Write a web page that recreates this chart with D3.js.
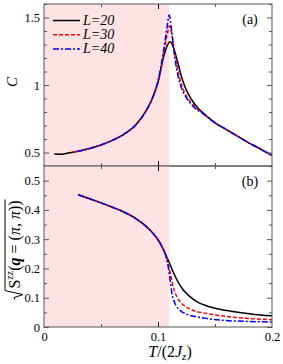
<!DOCTYPE html>
<html>
<head>
<meta charset="utf-8">
<script src="https://cdn.jsdelivr.net/npm/d3@7"></script>
<style>
  body { margin: 0; background: #fff; }
  svg text { font-family: "Liberation Serif", "Times New Roman", Times, "DejaVu Serif", serif !important; fill: #000; }
</style>
</head>
<body>
<script>
// Figure dimensions
const W = 283, H = 364;
const margin = { top: 4, right: 11, bottom: 37, left: 44 };
const PW = W - margin.left - margin.right;   // plot width
const PH_A = 162;                             // panel (a) height
const PH_B = 161;                             // panel (b) height

// Colors
const SHADE = '#fde3e3';
const FRAME = '#555';
const COLORS = ['#000000', '#ff0000', '#0000ff'];
const DASHES = [null, '4,2', '6,2,2,2'];

// Data
const SIZES = ['L=20', 'L=30', 'L=40'];
const T_SHADE = 0.11;

// (a) specific heat C
const T_C20 = [0.009, 0.015, 0.02, 0.03, 0.04, 0.05, 0.06, 0.07, 0.08, 0.09, 0.095, 0.1, 0.105, 0.108, 0.111, 0.113, 0.116, 0.121, 0.125, 0.13, 0.135, 0.14, 0.15, 0.16, 0.17, 0.18, 0.19, 0.2];
const C20   = [0.488, 0.487, 0.494, 0.51, 0.53, 0.556, 0.59, 0.635, 0.70, 0.815, 0.90, 1.02, 1.21, 1.29, 1.32, 1.29, 1.21, 1.05, 0.96, 0.885, 0.83, 0.79, 0.72, 0.67, 0.62, 0.57, 0.525, 0.478];
const T_C30 = [0.025, 0.03, 0.04, 0.05, 0.06, 0.07, 0.08, 0.09, 0.095, 0.1, 0.105, 0.108, 0.110, 0.112, 0.115, 0.119, 0.123, 0.128, 0.134, 0.14, 0.15, 0.16, 0.17, 0.18, 0.19, 0.2];
const C30   = [0.505, 0.51, 0.53, 0.556, 0.59, 0.635, 0.70, 0.815, 0.90, 1.025, 1.24, 1.37, 1.437, 1.38, 1.22, 1.05, 0.95, 0.88, 0.825, 0.785, 0.72, 0.67, 0.62, 0.57, 0.525, 0.478];
const T_C40 = [0.029, 0.03, 0.04, 0.05, 0.06, 0.07, 0.08, 0.09, 0.095, 0.1, 0.105, 0.108, 0.1098, 0.112, 0.114, 0.118, 0.122, 0.127, 0.133, 0.14, 0.15, 0.16, 0.17, 0.18, 0.19, 0.2];
const C40   = [0.509, 0.51, 0.53, 0.556, 0.59, 0.635, 0.70, 0.815, 0.90, 1.03, 1.26, 1.43, 1.518, 1.40, 1.25, 1.05, 0.95, 0.88, 0.825, 0.785, 0.72, 0.67, 0.62, 0.57, 0.525, 0.478];

// (b) sqrt of structure factor
const T_S20 = [0.03, 0.04, 0.05, 0.06, 0.07, 0.08, 0.085, 0.09, 0.095, 0.1, 0.103, 0.105, 0.107, 0.109, 0.111, 0.1135, 0.117, 0.122, 0.128, 0.134, 0.14, 0.15, 0.16, 0.17, 0.18, 0.19, 0.2];
const S20   = [0.452, 0.438, 0.424, 0.409, 0.393, 0.372, 0.358, 0.342, 0.323, 0.298, 0.278, 0.262, 0.245, 0.228, 0.210, 0.186, 0.158, 0.127, 0.104, 0.087, 0.076, 0.064, 0.056, 0.050, 0.045, 0.041, 0.038];
const T_S30 = [0.03, 0.04, 0.05, 0.06, 0.07, 0.08, 0.085, 0.09, 0.095, 0.1, 0.103, 0.105, 0.107, 0.109, 0.111, 0.1135, 0.117, 0.122, 0.13, 0.143, 0.16, 0.18, 0.2];
const S30   = [0.452, 0.438, 0.424, 0.409, 0.393, 0.372, 0.358, 0.342, 0.323, 0.298, 0.278, 0.262, 0.243, 0.215, 0.180, 0.135, 0.100, 0.076, 0.058, 0.046, 0.036, 0.029, 0.025];
const T_S40 = [0.03, 0.04, 0.05, 0.06, 0.07, 0.08, 0.085, 0.09, 0.095, 0.1, 0.103, 0.105, 0.107, 0.109, 0.111, 0.112, 0.115, 0.119, 0.125, 0.135, 0.143, 0.16, 0.18, 0.2];
const S40   = [0.452, 0.438, 0.424, 0.409, 0.393, 0.372, 0.358, 0.342, 0.323, 0.298, 0.278, 0.262, 0.241, 0.205, 0.150, 0.120, 0.080, 0.058, 0.044, 0.034, 0.029, 0.022, 0.019, 0.017];

const zipT = (ts, vs) => ts.map((t, i) => ({ t, v: vs[i] }));
const SERIES_A = [zipT(T_C20, C20), zipT(T_C30, C30), zipT(T_C40, C40)];
const SERIES_B = [zipT(T_S20, S20), zipT(T_S30, S30), zipT(T_S40, S40)];

// Scales
const x = d3.scaleLinear().domain([0, 0.2]).range([0, PW]);
const yA = d3.scaleLinear().domain([0.4, 1.6]).range([PH_A, 0]);
const yB = d3.scaleLinear().domain([0, 0.55]).range([PH_B, 0]);

// Viz
const svg = d3.select("body").append("svg")
    .attr("width", W)
    .attr("height", H);
const defs = svg.append("defs");

function addPanel(top, h, y, series, yMajor, yMinor, yFmt, tag) {
  const id = `clip-${tag}`;
  defs.append("clipPath").attr("id", id)
    .append("rect").attr("width", PW).attr("height", h);

  const g = svg.append("g").attr("transform", `translate(${margin.left},${top})`);

  // shaded ordered region
  g.append("rect")
    .attr("x", 0).attr("y", 0)
    .attr("width", x(T_SHADE)).attr("height", h)
    .attr("fill", SHADE);

  // curves
  const line = d3.line().x(d => x(d.t)).y(d => y(d.v)).curve(d3.curveMonotoneX);
  const lines = g.append("g").attr("clip-path", `url(#${id})`);
  series.forEach((s, i) => {
    lines.append("path")
      .attr("d", line(s))
      .attr("fill", "none")
      .attr("stroke", COLORS[i])
      .attr("stroke-width", 1.5)
      .attr("stroke-dasharray", DASHES[i]);
  });

  // axes: inward ticks on all four sides
  const strip = a => a.call(s => s.select(".domain").remove())
    .call(s => s.selectAll(".tick line").attr("stroke", FRAME));

  g.append("g")
    .call(d3.axisLeft(y).tickValues(yMajor).tickFormat(yFmt).tickSize(-5).tickPadding(4))
    .call(strip)
    .call(s => s.selectAll("text").attr("font-size", 12.5));
  g.append("g")
    .call(d3.axisLeft(y).tickValues(yMinor).tickFormat("").tickSize(-3))
    .call(strip);
  g.append("g").attr("transform", `translate(${PW},0)`)
    .call(d3.axisRight(y).tickValues(yMajor).tickFormat("").tickSize(-5))
    .call(strip);
  g.append("g").attr("transform", `translate(${PW},0)`)
    .call(d3.axisRight(y).tickValues(yMinor).tickFormat("").tickSize(-3))
    .call(strip);

  g.append("g")
    .call(d3.axisTop(x).tickValues([0.1]).tickFormat("").tickSize(-5))
    .call(strip).call(s => s.selectAll(".tick line").attr("stroke", "#000"));
  g.append("g")
    .call(d3.axisTop(x).tickValues([0.05, 0.15]).tickFormat("").tickSize(-3))
    .call(strip);
  g.append("g").attr("transform", `translate(0,${h})`)
    .call(d3.axisBottom(x).tickValues([0.1]).tickFormat("").tickSize(-5))
    .call(strip).call(s => s.selectAll(".tick line").attr("stroke", "#000"));
  g.append("g").attr("transform", `translate(0,${h})`)
    .call(d3.axisBottom(x).tickValues([0.05, 0.15]).tickFormat("").tickSize(-3))
    .call(strip);

  // frame
  g.append("rect")
    .attr("width", PW).attr("height", h)
    .attr("fill", "none").attr("stroke", FRAME).attr("stroke-width", 1);

  // panel tag
  g.append("text")
    .attr("x", PW - 22).attr("y", 20)
    .attr("text-anchor", "middle")
    .attr("font-size", 14)
    .text(`(${tag})`);

  return g;
}

const gA = addPanel(margin.top, PH_A, yA, SERIES_A,
  [0.5, 1, 1.5], d3.range(0.4, 1.61, 0.1).filter(v => Math.abs(v * 2 - Math.round(v * 2)) > 1e-6),
  d => d === 1 ? "1" : d3.format(".1f")(d), "a");
const gB = addPanel(margin.top + PH_A, PH_B, yB, SERIES_B,
  [0, 0.1, 0.2, 0.3, 0.4, 0.5], [0.05, 0.15, 0.25, 0.35, 0.45],
  d => d === 0 ? "0" : d3.format(".1f")(d), "b");

// x tick labels
gB.append("g").attr("transform", `translate(0,${PH_B})`)
  .call(d3.axisBottom(x).tickValues([0, 0.1, 0.2]).tickFormat(d => d === 0 ? "0" : d3.format(".1f")(d)).tickSize(0).tickPadding(5))
  .call(s => s.select(".domain").remove())
  .call(s => s.selectAll("text").attr("font-size", 12.5));

// Legend
const legend = gA.append("g").attr("transform", "translate(9,16.5)");
SIZES.forEach((lab, i) => {
  const row = legend.append("g").attr("transform", `translate(0,${i * 14.2})`);
  row.append("line")
    .attr("x1", 0).attr("x2", 27)
    .attr("stroke", COLORS[i]).attr("stroke-width", 1.5)
    .attr("stroke-dasharray", DASHES[i]);
  row.append("text")
    .attr("x", 30).attr("y", 4.5)
    .attr("font-size", 14).attr("font-style", "italic")
    .text(lab);
});

// Axis labels
svg.append("text")
  .attr("transform", `translate(17,82) rotate(-90)`)
  .attr("text-anchor", "middle")
  .attr("font-size", 15).attr("font-style", "italic")
  .text("C");

const xl = svg.append("text")
  .attr("x", 170).attr("y", 357)
  .attr("text-anchor", "middle")
  .attr("font-size", 16);
xl.append("tspan").attr("font-style", "italic").text("T");
xl.append("tspan").text("/(2");
xl.append("tspan").attr("font-style", "italic").text("J");
xl.append("tspan").attr("font-style", "italic").attr("font-size", 11).attr("dy", 3).text("z");
xl.append("tspan").attr("dy", -3).text(")");

// sqrt(S^zz(q=(pi,pi))) label, rotated
const yl = svg.append("g").attr("transform", "translate(20,250) rotate(-90)");
const ylt = yl.append("text").attr("font-size", 16).attr("x", 0).attr("y", 0);
ylt.append("tspan").text("S");
ylt.append("tspan").attr("font-size", 10).attr("dy", -7).text("zz");
ylt.append("tspan").attr("dy", 7).text("(");
ylt.append("tspan").attr("font-weight", "bold").attr("font-style", "italic").text("q");
ylt.append("tspan").text(" = (");
ylt.append("tspan").attr("font-style", "italic").text("π");
ylt.append("tspan").text(", ");
ylt.append("tspan").attr("font-style", "italic").text("π");
ylt.append("tspan").text("))");
const tw = ylt.node().getComputedTextLength();
const total = tw + 11;
ylt.attr("x", -total / 2 + 11);
const x0 = -total / 2;
yl.append("path")
  .attr("d", `M${x0},-5 L${x0 + 2},-6 L${x0 + 5},3 L${x0 + 9},-15 L${total / 2 + 1},-15`)
  .attr("fill", "none").attr("stroke", "#000").attr("stroke-width", 1);
</script>
</body>
</html>
